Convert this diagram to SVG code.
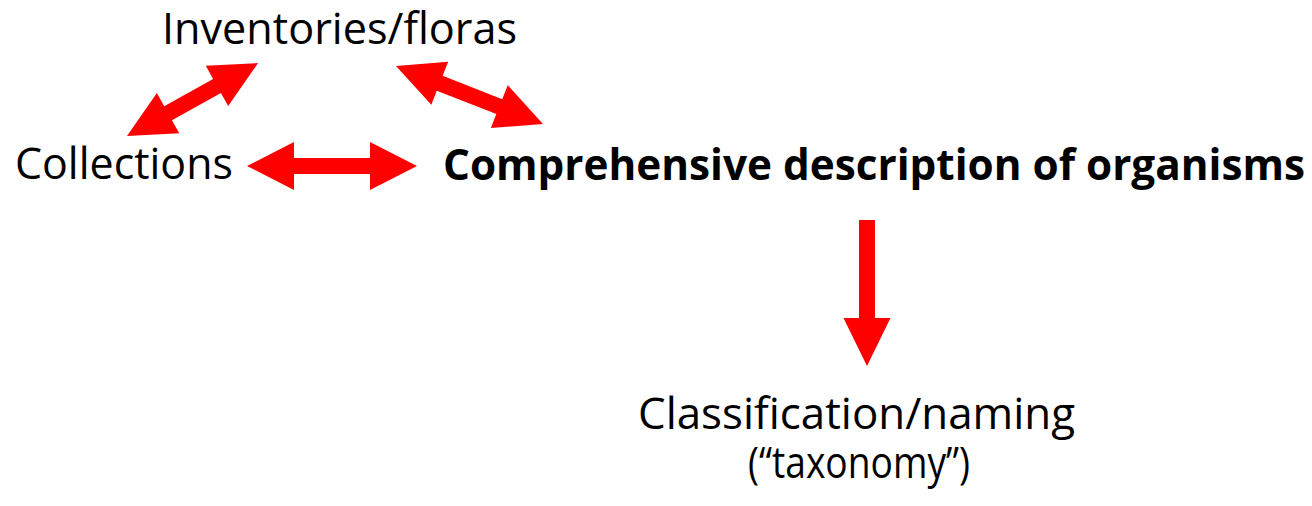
<svg xmlns="http://www.w3.org/2000/svg" width="1312" height="506" viewBox="0 0 1312 506">
  <style>
    .lbl { font-family: "Open Sans", "Liberation Sans", sans-serif; font-size: 43px; fill: #000; }
    .bold { font-weight: bold; }
    .arrow { fill: #ff0000; stroke: none; }
  </style>
  <rect width="1312" height="506" fill="#ffffff"/>

  <!-- block arrows drawn along local +x, then placed with transforms -->
  <g id="connectors">
    <!-- Collections <-> Inventories/floras -->
    <polygon class="arrow" transform="translate(127,136) rotate(-29.1)"
      points="0,0 47,-23 47,-8 103,-8 103,-23 150,0 103,23 103,8 47,8 47,23"/>
    <!-- Inventories/floras <-> Comprehensive description -->
    <polygon class="arrow" transform="translate(396,66) rotate(21.5)"
      points="0,0 47,-23 47,-8 111,-8 111,-23 158,0 111,23 111,8 47,8 47,23"/>
    <!-- Collections <-> Comprehensive description -->
    <polygon class="arrow" transform="translate(247,166)"
      points="0,0 47,-24 47,-8 123,-8 123,-24 170,0 123,24 123,8 47,8 47,24"/>
    <!-- Comprehensive description -> Classification/naming -->
    <polygon class="arrow" transform="translate(867,220) rotate(90)"
      points="0,-8 98,-8 98,-23.5 146,0 98,23.5 98,8 0,8"/>
  </g>

  <g id="inventories">
    <text class="lbl" x="162" y="44" textLength="355" lengthAdjust="spacingAndGlyphs">Inventories/floras</text>
  </g>
  <g id="collections">
    <text class="lbl" x="15" y="179" textLength="218" lengthAdjust="spacingAndGlyphs">Collections</text>
  </g>
  <g id="description">
    <text class="lbl bold" x="443" y="180" textLength="862" lengthAdjust="spacingAndGlyphs">Comprehensive description of organisms</text>
  </g>
  <g id="classification">
    <text class="lbl" x="638" y="429" textLength="437" lengthAdjust="spacingAndGlyphs">Classification/naming</text>
    <text class="lbl" x="748" y="478" textLength="222" lengthAdjust="spacingAndGlyphs">(“taxonomy”)</text>
  </g>
</svg>
